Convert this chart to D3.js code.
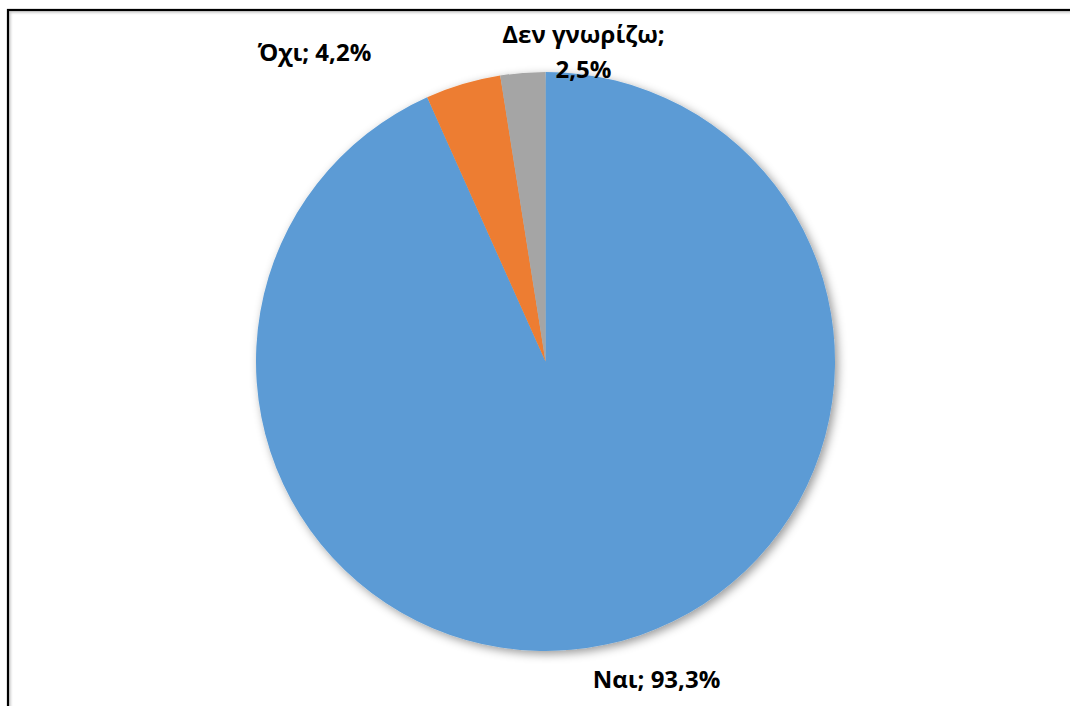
<!DOCTYPE html>
<html>
<head>
<meta charset="utf-8">
<script src="https://cdn.jsdelivr.net/npm/d3@7"></script>
<style>
  html, body { margin: 0; padding: 0; background: #fff; }
  svg { display: block; }
</style>
</head>
<body>
<svg id="chart" width="1070" height="706"></svg>
<script>
// ---- data ----
const categories = ["Ναι", "Όχι", "Δεν γνωρίζω"];
const values = [93.3, 4.2, 2.5];
const colors = ["#5B9BD5", "#ED7D31", "#A5A5A5"];
const labelLines = [["Ναι; 93,3%"], ["Όχι; 4,2%"], ["Δεν γνωρίζω;", "2,5%"]];

// ---- layout (not data) ----
const W = 1070, H = 706;
const cx = 545.5, cy = 361.5, R = 289.5;
// label anchor (center x, first baseline y) relative to pie center
const labelOffsets = [[111, 326], [-231, -301], [38, -319]];
const lineGap = 35;

const svg = d3.select("#chart");

const defs = svg.append("defs");
const f = defs.append("filter").attr("id", "shadow")
  .attr("x", "-10%").attr("y", "-10%").attr("width", "120%").attr("height", "120%");
f.append("feDropShadow").attr("dx", 3).attr("dy", 3).attr("stdDeviation", 5)
  .attr("flood-color", "#000").attr("flood-opacity", 0.4);

const bf = defs.append("filter").attr("id", "bshadow")
  .attr("x", "-5%").attr("y", "-5%").attr("width", "110%").attr("height", "110%");
bf.append("feDropShadow").attr("dx", 1.5).attr("dy", 1.5).attr("stdDeviation", 0.8)
  .attr("flood-color", "#000").attr("flood-opacity", 0.25);

// outer border
svg.append("rect")
  .attr("x", 8).attr("y", 10).attr("width", 1200).attr("height", 900)
  .attr("fill", "none").attr("stroke", "#000").attr("stroke-width", 2.2)
  .attr("filter", "url(#bshadow)");

const pie = d3.pie().sort(null).value(d => d)(values);
const arc = d3.arc().innerRadius(0).outerRadius(R);

const g = svg.append("g").attr("transform", `translate(${cx},${cy})`);
const slices = g.append("g").attr("filter", "url(#shadow)");
slices.selectAll("path").data(pie).join("path")
  .attr("d", arc)
  .attr("fill", (d, i) => colors[i]);

const labels = g.append("g")
  .attr("font-family", "'Open Sans', 'Noto Sans', sans-serif")
  .attr("font-weight", 700)
  .attr("font-size", 24)
  .attr("fill", "#000")
  .attr("text-anchor", "middle");

labels.selectAll("text").data(categories).join("text")
  .attr("x", (d, i) => labelOffsets[i][0])
  .attr("y", (d, i) => labelOffsets[i][1])
  .each(function(d, i) {
    const t = d3.select(this);
    labelLines[i].forEach((ln, j) => {
      t.append("tspan")
        .attr("x", labelOffsets[i][0])
        .attr("y", labelOffsets[i][1] + j * lineGap)
        .text(ln);
    });
  });
</script>
</body>
</html>
